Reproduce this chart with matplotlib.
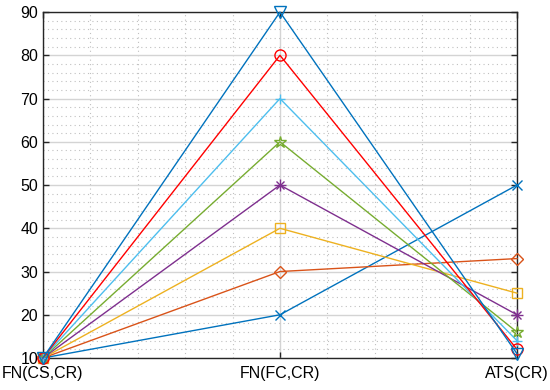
import matplotlib
matplotlib.use("Agg")
import matplotlib.pyplot as plt
from matplotlib.ticker import MultipleLocator

plt.rcParams['font.family'] = ['Liberation Sans', 'DejaVu Sans']

categories = ['FN(CS,CR)', 'FN(FC,CR)', 'ATS(CR)']
x_pos = [1, 2, 3]

s_blue_x = [10, 20, 50]
s_orange = [10, 30, 33]
s_yellow = [10, 40, 25]
s_purple = [10, 50, 20]
s_green = [10, 60, 16]
s_cyan = [10, 70, 14]
s_red = [10, 80, 12]
s_blue_v = [10, 90, 11]

# 'ast' = MATLAB-style asterisk (plus + cross)
series = [
    (s_blue_x, '#0072BD', 'x'),
    (s_orange, '#D95319', 'D'),
    (s_yellow, '#EDB120', 's'),
    (s_purple, '#7E2F8E', 'ast'),
    (s_green, '#77AC30', '*'),
    (s_cyan, '#4DBEEE', '+'),
    (s_red, '#FF0000', 'o'),
    (s_blue_v, '#0072BD', 'v'),
]

fig = plt.figure(figsize=(5.5, 3.9), dpi=100)
ax = fig.add_axes([0.078, 0.082, 0.862, 0.887])

for vals, col, mk in series:
    if mk == 'ast':
        ax.plot(x_pos, vals, '-', color=col, lw=1.0, marker='+', ms=8,
                mec=col, mew=1.0, clip_on=False, zorder=3)
        ax.plot(x_pos, vals, 'none', marker='x', ms=6, mec=col, mew=1.0,
                clip_on=False, zorder=3)
        continue
    ms = {'D': 6, '*': 9, 'v': 8, 'o': 8}.get(mk, 7)
    ax.plot(x_pos, vals, '-', color=col, lw=1.0, marker=mk, ms=ms,
            mfc='none', mec=col, mew=1.0, clip_on=False, zorder=3)

ax.set_xlim(1, 3)
ax.set_ylim(10, 90)
ax.set_xticks(x_pos)
ax.set_xticklabels(categories)
ax.set_yticks(range(10, 91, 10))
ax.xaxis.set_minor_locator(MultipleLocator(0.2))
ax.yaxis.set_minor_locator(MultipleLocator(2))

ax.grid(True, which='major', color='#d4d4d4', lw=1.0, ls='-')
ax.grid(True, which='minor', color='#c0c0c0', lw=0.8, ls=(0, (1, 3)))
ax.set_axisbelow(True)

ax.tick_params(which='major', direction='in', length=4, width=1.0, labelsize=11.5,
               top=True, right=True, color='#262626')
ax.tick_params(which='minor', length=0)
ax.tick_params(axis='x', pad=6)
for sp in ax.spines.values():
    sp.set_color('#262626')
    sp.set_linewidth(1.0)

fig.savefig('out.png', dpi=100)
plt.close()
